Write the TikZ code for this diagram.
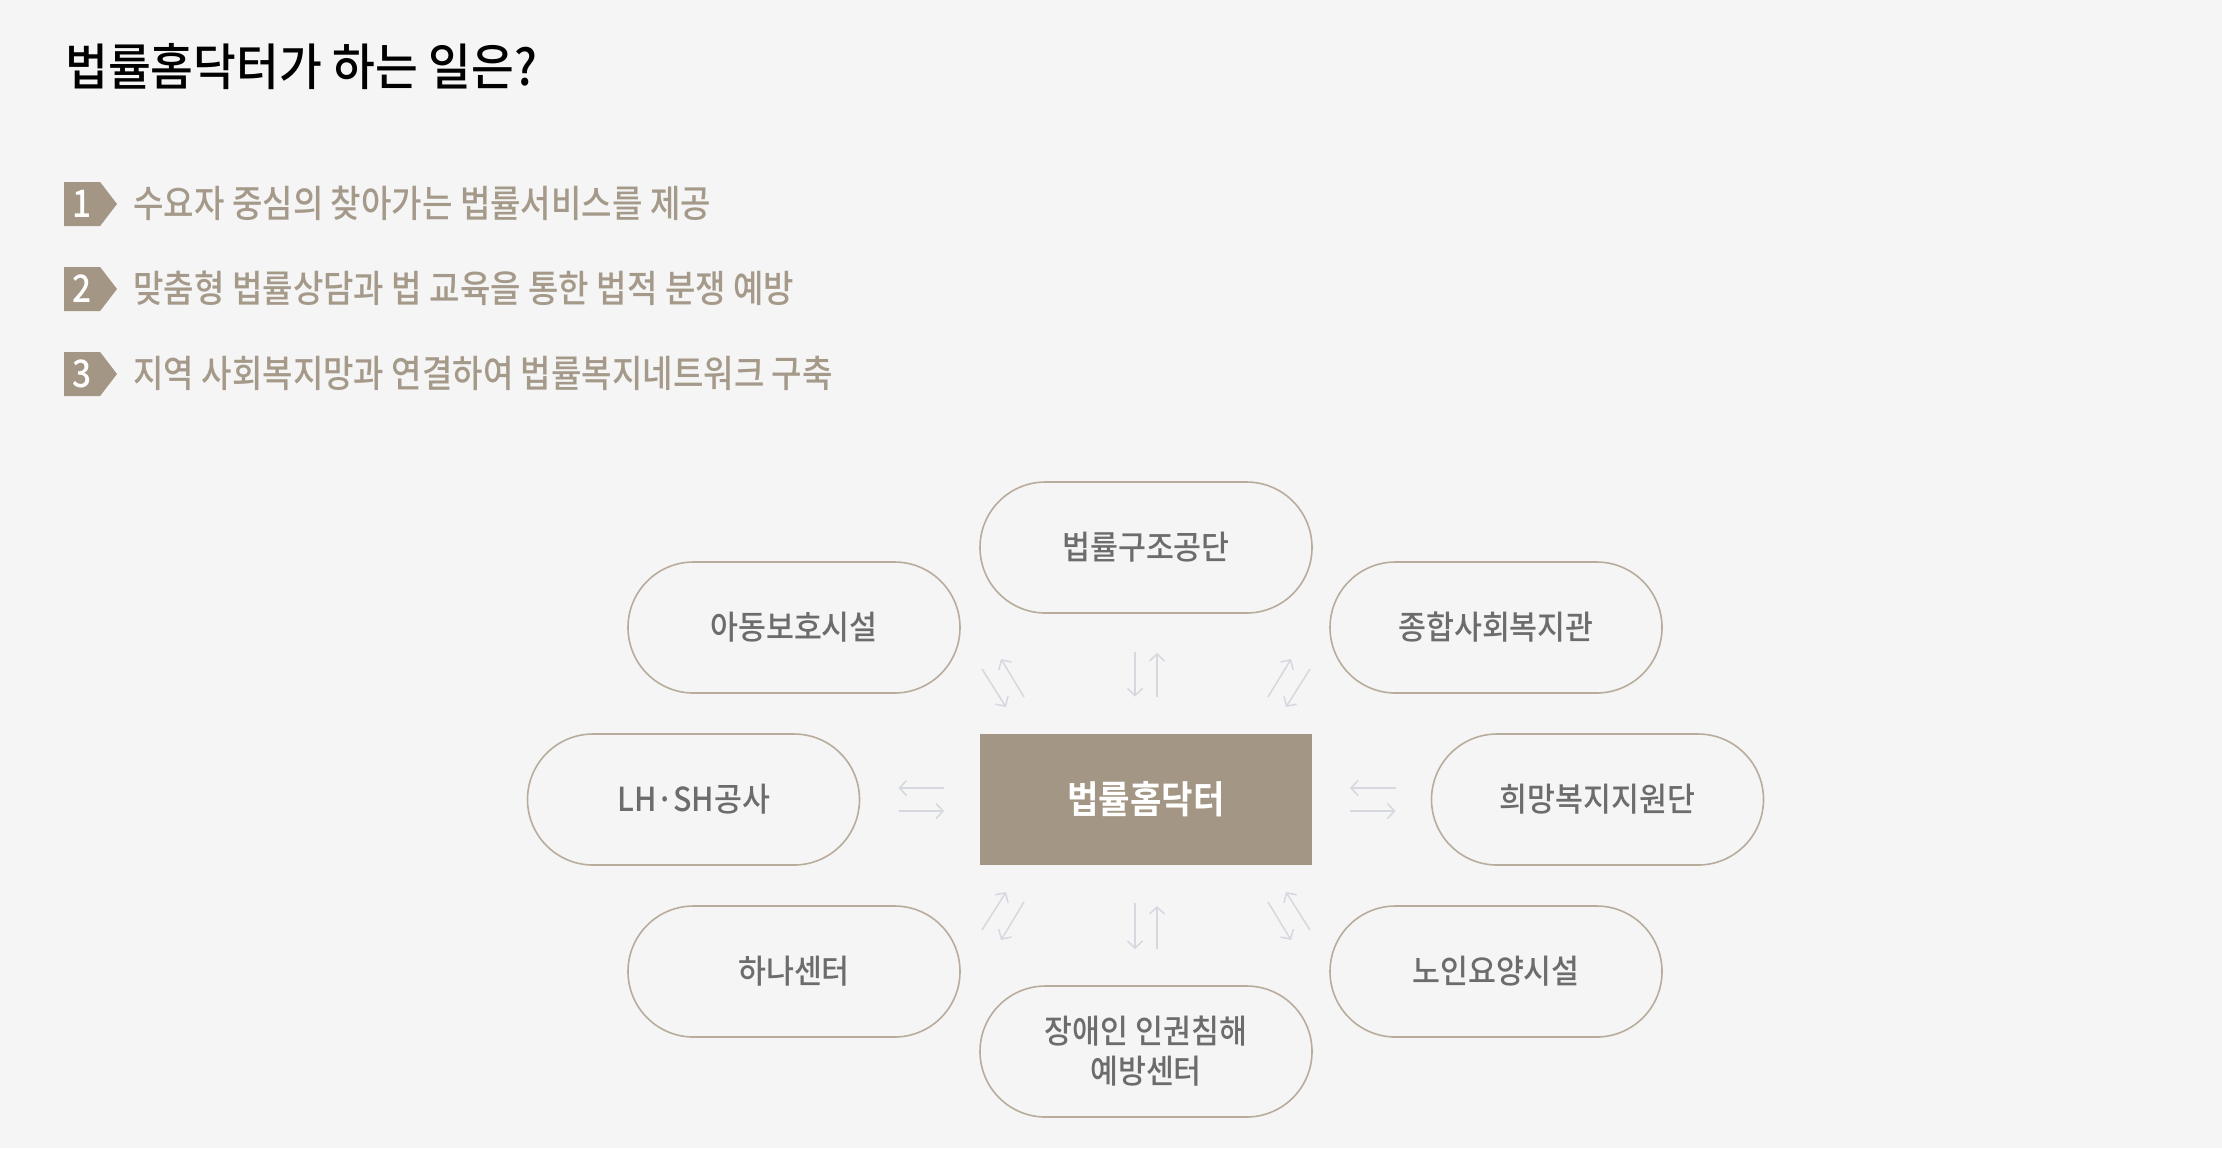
\documentclass[tikz,border=0pt]{standalone}
\usepackage{fontspec}
\usetikzlibrary{shapes.misc,shapes.symbols,arrows.meta,calc}
\newfontfamily\krTitle[FakeStretch=0.93]{Noto Sans CJK KR Medium}
\newfontfamily\krItem[FakeStretch=0.88]{Noto Sans CJK KR Medium}
\newfontfamily\krPill[FakeStretch=0.92]{Noto Sans CJK KR Medium}
\newfontfamily\krHub[FakeStretch=0.9]{Noto Sans CJK KR Bold}
\definecolor{bgc}{HTML}{F5F5F5}
\definecolor{tanc}{HTML}{A39684}
\definecolor{itemc}{HTML}{A59A8A}
\definecolor{pillc}{HTML}{B8AC9D}
\definecolor{pilltxt}{HTML}{6C6C6C}
\definecolor{arrc}{HTML}{D6D8E0}
\begin{document}
\begin{tikzpicture}[x=0.5pt,y=-0.5pt,
  pill/.style={rounded rectangle, draw=pillc, line width=0.8pt, fill=bgc,
    minimum width=166pt, minimum height=65.5pt, inner sep=0pt, outer sep=0pt,
    text=pilltxt, align=center, font=\krPill\fontsize{16.5pt}{20pt}\selectfont},
  hubbox/.style={rectangle, fill=tanc, minimum width=166pt, minimum height=65.5pt,
    inner sep=0pt, outer sep=0pt, text=white, font=\krHub\fontsize{19pt}{22pt}\selectfont},
  arr/.style={draw=arrc, line width=0.75pt, -{Straight Barb[length=3.5pt,width=7.5pt]}},
  badge/.style={signal, signal to=east, signal pointer angle=105, fill=tanc,
    minimum width=26.5pt, minimum height=22pt, inner sep=0pt, outer sep=0pt, anchor=west},
  num/.style={text=white, inner sep=0pt, font=\krItem\fontsize{19pt}{19pt}\selectfont},
  item/.style={anchor=west, inner sep=0pt, text=itemc, font=\krItem\fontsize{18.8pt}{22pt}\selectfont},
  title/.style={anchor=west, inner sep=0pt, text=black, font=\krTitle\fontsize{25pt}{28pt}\selectfont}]
\fill[bgc] (0,0) rectangle (2222,1148);
\useasboundingbox (0,0) rectangle (2222,1148);

% title
\node[title] (ttl) at (65,67) {법률홈닥터가 하는 일은?};

% items
\node[badge] (b1) at (64,204) {};
\node[num] (n1) at (82,204) {1};
\node[item] (t1) at (133,203) {수요자 중심의 찾아가는 법률서비스를 제공};
\node[badge] (b2) at (64,289) {};
\node[num] (n2) at (82,289) {2};
\node[item] (t2) at (133,288) {맞춤형 법률상담과 법 교육을 통한 법적 분쟁 예방};
\node[badge] (b3) at (64,374) {};
\node[num] (n3) at (82,374) {3};
\node[item] (t3) at (133,373) {지역 사회복지망과 연결하여 법률복지네트워크 구축};

% diagram
\node[hubbox] (hub) at (1146,799.5) {법률홈닥터};
\node[pill] (top) at (1146,547.5) {법률구조공단};
\node[pill] (bot) at (1146,1051.5) {장애인 인권침해\\예방센터};
\node[pill] (tl) at (794,627.5) {아동보호시설};
\node[pill] (tr) at (1496,627.5) {종합사회복지관};
\node[pill] (lf) at (693.5,799.5) {LH·SH공사};
\node[pill] (rt) at (1597.5,799.5) {희망복지지원단};
\node[pill] (bl) at (794,971.5) {하나센터};
\node[pill] (br) at (1496,971.5) {노인요양시설};

% vertical arrows
\draw[arr, shorten <=19.5pt, shorten >=18.75pt] ([xshift=-5.5pt]top.south) -- ([xshift=-5.5pt]hub.north);
\draw[arr, shorten <=18.75pt, shorten >=20pt] ([xshift=5.5pt]hub.north) -- ([xshift=5.5pt]top.south);
\draw[arr, shorten <=19pt, shorten >=18.5pt] ([xshift=-5.5pt]hub.south) -- ([xshift=-5.5pt]bot.north);
\draw[arr, shorten <=18.5pt, shorten >=20.5pt] ([xshift=5.5pt]bot.north) -- ([xshift=5.5pt]hub.south);
% horizontal arrows
\draw[arr, shorten <=18pt, shorten >=19.5pt] ([yshift=5.75pt]hub.west) -- ([yshift=5.75pt]lf.east);
\draw[arr, shorten <=19.5pt, shorten >=18pt] ([yshift=-5.75pt]lf.east) -- ([yshift=-5.75pt]hub.west);
\draw[arr, shorten <=18pt, shorten >=19pt] ([yshift=5.75pt]rt.west) -- ([yshift=5.75pt]hub.east);
\draw[arr, shorten <=19pt, shorten >=18pt] ([yshift=-5.75pt]hub.east) -- ([yshift=-5.75pt]rt.west);
% diagonal arrows
\foreach \corner/\sx/\sy in {north west/1/-1, north east/-1/-1, south west/1/1, south east/-1/1}{
  \draw[arr] ($(hub.\corner)+(2*\sx,65*\sy)$) -- ($(hub.\corner)+(26*\sx,27*\sy)$);
  \draw[arr] ($(hub.\corner)+(44*\sx,37*\sy)$) -- ($(hub.\corner)+(21*\sx,75*\sy)$);
}
\end{tikzpicture}
\end{document}
